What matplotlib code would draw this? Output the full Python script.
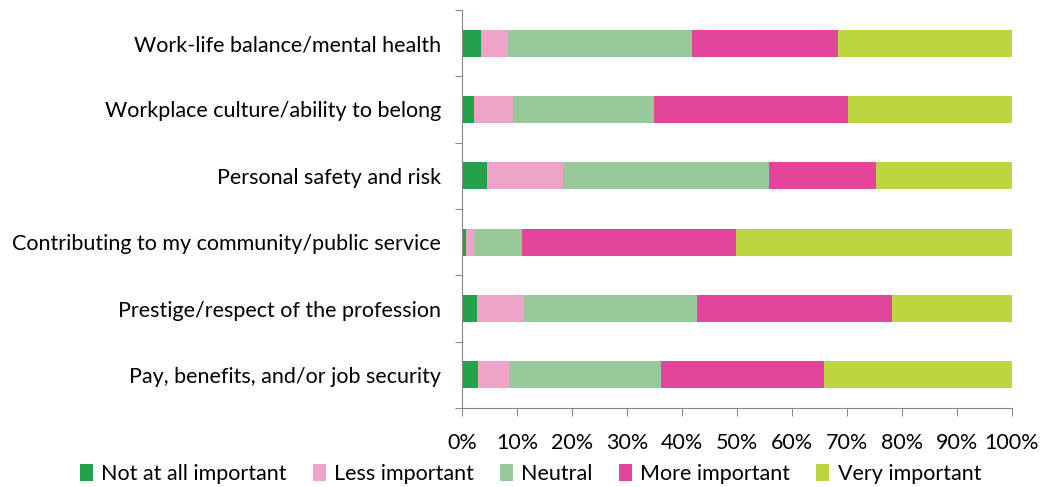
import numpy as np
import matplotlib.pyplot as plt
from matplotlib.patches import Patch

plt.rcParams['font.family'] = ['Lato', 'DejaVu Sans']

factors = [
    "Work-life balance/mental health",
    "Workplace culture/ability to belong",
    "Personal safety and risk",
    "Contributing to my community/public service",
    "Prestige/respect of the profession",
    "Pay, benefits, and/or job security",
]
levels = ["Not at all important", "Less important", "Neutral",
          "More important", "Very important"]

# share of responses (%) per factor, one list per level
not_at_all = [3.5, 2.1, 4.5, 0.7, 2.8, 3.0]
less_imp = [4.8, 7.2, 13.9, 1.4, 8.5, 5.5]
neutral = [33.6, 25.6, 37.5, 8.9, 31.4, 27.6]
more_imp = [26.5, 35.2, 19.4, 38.8, 35.4, 29.8]
very_imp = [31.6, 29.9, 24.7, 50.2, 21.9, 34.1]

colors = ["#22a24a", "#efa3c8", "#98c99a", "#e2459a", "#bcd642"]

fig = plt.figure(figsize=(10.4, 4.87), dpi=100)
ax = fig.add_axes([0.4442, 0.1622, 0.5289, 0.8173])

y = np.arange(len(factors))
left = np.zeros(len(factors))
for vals, c, lab in zip([not_at_all, less_imp, neutral, more_imp, very_imp], colors, levels):
    vals = np.array(vals)
    ax.barh(y, vals, left=left, height=0.41, color=c, label=lab)
    left += vals

ax.set_xlim(0, 100)
ax.set_ylim(len(factors) - 0.5, -0.5)
ax.set_xticks(np.arange(0, 101, 10))
ax.set_xticklabels([f"{v}%" for v in range(0, 101, 10)], fontsize=15.5)

# category boundary ticks (Excel style) + centred labels
ax.set_yticks(np.arange(-0.5, len(factors), 1))
ax.set_yticklabels([])
ax.set_yticks(y, minor=True)
ax.set_yticklabels(factors, minor=True, fontsize=15.5)
ax.tick_params(axis='y', which='minor', length=0, pad=15)
ax.tick_params(axis='y', which='major', length=5, color='#888888')
ax.tick_params(axis='x', length=6, color='#888888', pad=12)

for s in ['top', 'right']:
    ax.spines[s].set_visible(False)
for s in ['left', 'bottom']:
    ax.spines[s].set_color('#888888')

handles = [Patch(facecolor=c, label=l) for c, l in zip(colors, levels)]
fig.legend(handles=handles, loc='lower center', bbox_to_anchor=(0.51, -0.033), ncol=5,
           frameon=False, fontsize=15.5, handlelength=0.6, handleheight=0.85,
           handletextpad=0.4, columnspacing=1.2)

fig.savefig("out.png", dpi=100)
